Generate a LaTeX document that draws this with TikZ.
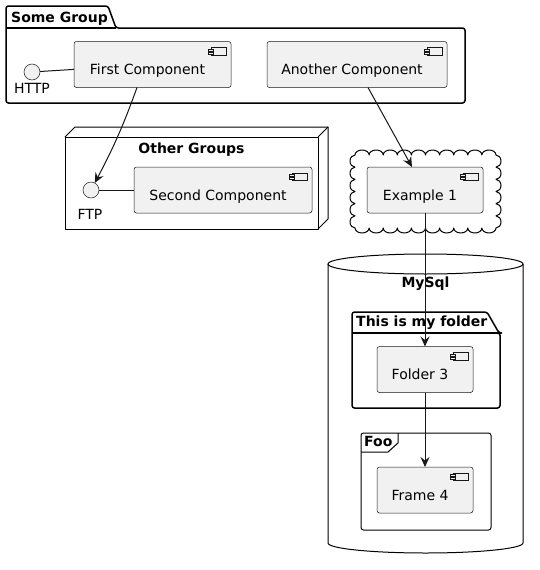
\documentclass[tikz,border=0pt]{standalone}
\usepackage{fontspec}
\setmainfont{DejaVu Sans}
\usetikzlibrary{arrows.meta}
\definecolor{compfill}{HTML}{F1F1F1}
\definecolor{compline}{HTML}{181818}
\tikzset{
  compbox/.style={draw=compline, line width=0.5pt, fill=compfill, rounded corners=2.5pt, inner sep=0pt, outer sep=0pt},
  comptext/.style={anchor=base, inner sep=0pt, font=\fontsize{14}{16}\selectfont},
  grouptitle/.style={anchor=base west, inner sep=0pt, font=\fontsize{14}{16}\selectfont\bfseries},
  centertitle/.style={anchor=base, inner sep=0pt, font=\fontsize{14}{16}\selectfont\bfseries},
  iface/.style={circle, draw=compline, line width=0.5pt, fill=compfill, minimum size=16pt, inner sep=0pt, outer sep=0pt},
  ifacetext/.style={anchor=base, inner sep=0pt, font=\fontsize{14}{16}\selectfont},
  link/.style={draw=compline, line width=1pt},
  arr/.style={link, -{Stealth[length=10pt, width=9pt, inset=3.5pt]}},
  pkg/.style={draw=black, line width=1.5pt, rounded corners=2.5pt, line join=round},
  thin box/.style={draw=black, line width=1pt, line join=round},
  iconline/.style={draw=compline, line width=0.5pt, fill=compfill},
}
\newcommand\compnode[6]{%
  \node[compbox, minimum width={#4-#2}, minimum height={#5-#3}] (#1) at ({(#2+#4)/2},{(#3+#5)/2}) {};
  \node[comptext] (#1-t) at ([shift={(-5pt,-10pt)}]#1.center) {#6};
  \draw[iconline] ([shift={(-20pt,-6pt)}]#1.north east) rectangle ([shift={(-5pt,-13.5pt)}]#1.north east);
  \draw[iconline] ([shift={(-22.5pt,-7.5pt)}]#1.north east) rectangle ([shift={(-18pt,-9.5pt)}]#1.north east);
  \draw[iconline] ([shift={(-22.5pt,-10.5pt)}]#1.north east) rectangle ([shift={(-18pt,-12.5pt)}]#1.north east);
}
\begin{document}
\begin{tikzpicture}[x=1pt, y=-1pt]
\useasboundingbox (0,0) rectangle (539,570);
\fill[white] (0,0) rectangle (539,570);

% Some Group package
\draw[pkg] (6,28) -- (6,6) -- (108,6) -- (116,28) -- (465,28) -- (465,103) -- (6,103) -- cycle;
\draw[pkg, rounded corners=0pt] (6,28) -- (116,28);
\node[grouptitle] (somegroup) at (11,22.5) {Some Group};

% Other Groups node (3D box)
\draw[thin box] (65,137) rectangle (318,229);
\draw[thin box] (65,137) -- (75,127) -- (328,127) -- (328,219) -- (318,229);
\draw[thin box] (318,137) -- (328,127);
\node[centertitle] (othergroups) at (191.5,153) {Other Groups};

% Cloud
\draw[draw=black, line width=1pt, fill=white, line join=round] (355,155)
  \foreach \i in {1,...,10}{ arc[start angle=180, end angle=0, x radius=7.05pt, y radius=5pt] }
  \foreach \i in {1,...,6}{ arc[start angle=90, end angle=-90, x radius=5pt, y radius=6.083pt] }
  \foreach \i in {1,...,10}{ arc[start angle=0, end angle=-180, x radius=7.05pt, y radius=5pt] }
  \foreach \i in {1,...,6}{ arc[start angle=-90, end angle=-270, x radius=5pt, y radius=6.083pt] }
  -- cycle;

% MySql database
\draw[black, line width=1pt, fill=white] (328,264) -- (328,543)
  arc[start angle=180, end angle=360, x radius=97.5pt, y radius=10pt] -- (523,264);
\draw[black, line width=1pt] (425.5,264) ellipse [x radius=97.5pt, y radius=10pt];
\node[centertitle] (mysql) at (425.5,287) {MySql};

% This is my folder package
\draw[pkg] (352,333) -- (352,312) -- (487,312) -- (499,333) -- (500,333) -- (500,408) -- (352,408) -- cycle;
\draw[pkg, rounded corners=0pt] (352,333) -- (499,333);
\node[grouptitle] (myfolder) at (356,326.5) {This is my folder};

% Foo frame
\draw[thin box, rounded corners=2.5pt] (361,433) rectangle (491,530);
\draw[thin box] (361,452) -- (388,452) -- (398,443) -- (398,433);
\node[grouptitle] (foo) at (364,446.5) {Foo};

% Components
\compnode{first}{74}{41.5}{231}{87.5}{First Component}
\compnode{another}{267}{41.5}{447}{87.5}{Another Component}
\compnode{second}{134}{167}{312}{213}{Second Component}
\compnode{example}{367}{167}{483}{213}{Example 1}
\compnode{folder}{377}{346.5}{473}{392.5}{Folder 3}
\compnode{frame}{377}{467}{473}{513}{Frame 4}

% Interfaces
\node[iface] (http) at (32,72) {};
\node[ifacetext] (http-t) at (32,93) {HTTP};
\node[iface] (ftp) at (91,190) {};
\node[ifacetext] (ftp-t) at (90,219) {FTP};

% Connectors
\draw[link] (http) -- (first);
\draw[link] (ftp) -- (second);
\draw[arr] ([xshift=-15.5pt]first.south) to[bend left=4] (ftp);
\draw[arr] ([xshift=11pt]another.south) -- ([xshift=-13pt]example.north);
\draw[arr] (example) -- (folder);
\draw[arr] (folder) -- (frame);
\end{tikzpicture}
\end{document}
